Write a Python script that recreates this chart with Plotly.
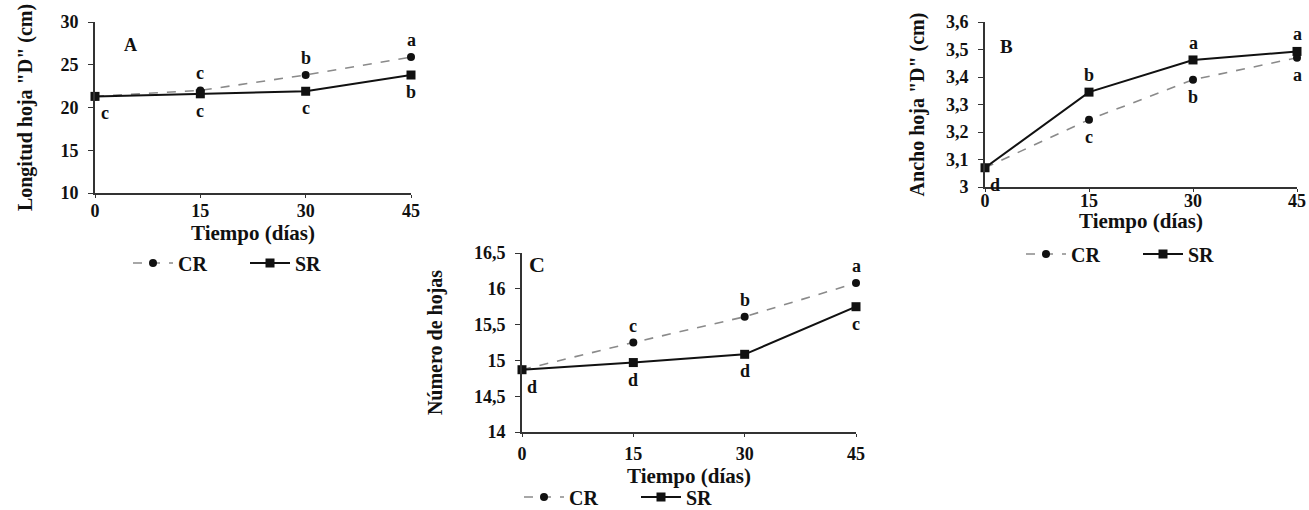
import plotly.graph_objects as go

# ---------------- data ----------------
dias = [0, 15, 30, 45]

# Panel A: Longitud hoja "D" (cm)
a_cr = [21.3, 22.0, 23.8, 25.9]
a_sr = [21.3, 21.6, 21.9, 23.8]
a_cr_let = ["", "c", "b", "a"]
a_sr_let = ["c", "c", "c", "b"]

# Panel B: Ancho hoja "D" (cm)
b_cr = [3.07, 3.245, 3.39, 3.47]
b_sr = [3.07, 3.345, 3.462, 3.493]
b_cr_let = ["d", "c", "b", "a"]
b_sr_let = ["", "b", "a", "a"]

# Panel C: Número de hojas
c_cr = [14.87, 15.25, 15.61, 16.08]
c_sr = [14.87, 14.97, 15.085, 15.75]
c_cr_let = ["", "c", "b", "a"]
c_sr_let = ["d", "d", "d", "c"]

x_title = "Tiempo (días)"

FONT = "Liberation Serif"
INK = "#111111"
W, H = 1309, 510

fig = go.Figure()

panels = [
    dict(cr=a_cr, sr=a_sr, crl=a_cr_let, srl=a_sr_let, ax="x", ay="y", leg="legend",
         crpos="above", srpos="below", title_y=233, axis_y=193),
    dict(cr=b_cr, sr=b_sr, crl=b_cr_let, srl=b_sr_let, ax="x2", ay="y2", leg="legend2",
         crpos="below", srpos="above", title_y=221, axis_y=187),
    dict(cr=c_cr, sr=c_sr, crl=c_cr_let, srl=c_sr_let, ax="x3", ay="y3", leg="legend3",
         crpos="above", srpos="below", title_y=476, axis_y=432),
]

annotations = []
for p in panels:
    fig.add_trace(go.Scatter(
        x=dias, y=p["cr"], name="CR", mode="lines+markers",
        line=dict(color="#8a8a8a", width=1.6, dash="dash"),
        marker=dict(symbol="circle", size=8, color=INK),
        xaxis=p["ax"], yaxis=p["ay"], legend=p["leg"], cliponaxis=False))
    fig.add_trace(go.Scatter(
        x=dias, y=p["sr"], name="SR", mode="lines+markers",
        line=dict(color=INK, width=2),
        marker=dict(symbol="square", size=9, color=INK),
        xaxis=p["ax"], yaxis=p["ay"], legend=p["leg"], cliponaxis=False))
    for vals, lets, pos in ((p["cr"], p["crl"], p["crpos"]), (p["sr"], p["srl"], p["srpos"])):
        for xv, yv, t in zip(dias, vals, lets):
            if not t:
                continue
            annotations.append(dict(
                x=xv, y=yv, xref=p["ax"], yref=p["ay"], text=t, showarrow=False,
                xshift=10 if xv == 0 else 0,
                yshift=17 if pos == "above" else -17,
                font=dict(family=FONT, size=18, color=INK, weight="bold")))
    # x-axis title, placed below the tick labels
    annotations.append(dict(
        x=0.5, xref=p["ax"] + " domain", y=0, yref=p["ay"] + " domain",
        yshift=-(p["title_y"] - p["axis_y"]), yanchor="middle", showarrow=False,
        text=x_title, font=dict(family=FONT, size=21, color=INK, weight="bold")))

tickfont = dict(family=FONT, size=18, color=INK, weight="bold")

def xaxis(domain, anchor, lab_off):
    return dict(domain=domain, anchor=anchor, range=[0, 45], tickvals=dias,
                showgrid=False, zeroline=False, showline=True, linecolor="#333333",
                linewidth=2, ticks="outside", ticklen=3, tickcolor="#333333",
                tickfont=tickfont, ticklabelstandoff=lab_off, automargin=False,
                ticklabeloverflow="allow")

def yaxis(domain, anchor, rng, dtick, title, standoff):
    return dict(domain=domain, anchor=anchor, range=rng, dtick=dtick,
                showgrid=False, zeroline=False, showline=True, linecolor="#333333",
                linewidth=2, ticks="outside", ticklen=5, tickcolor="#333333",
                tickfont=tickfont, ticklabelstandoff=6, automargin=False,
                ticklabeloverflow="allow",
                title=dict(text=title,
                           font=dict(family=FONT, size=20, color=INK, weight="bold"),
                           standoff=standoff))

def px(x):
    return x / W

def py(y):
    return 1 - y / H

fig.update_layout(
    width=W, height=H,
    margin=dict(l=0, r=0, t=0, b=0, autoexpand=False),
    paper_bgcolor="white", plot_bgcolor="white",
    separators=",.",
    showlegend=True,
    xaxis=xaxis([px(95), px(411)], "y", -3),
    yaxis=yaxis([py(193), py(22)], "x", [10, 30], 5, 'Longitud hoja "D" (cm)', 22),
    xaxis2=xaxis([px(985), px(1297)], "y2", -7),
    yaxis2=yaxis([py(187), py(22)], "x2", [3, 3.6], 0.1, 'Ancho hoja "D" (cm)', 16),
    xaxis3=xaxis([px(522), px(856)], "y3", 1),
    yaxis3=yaxis([py(432), py(253)], "x3", [14, 16.5], 0.5, "Número de hojas", 26),
    annotations=annotations + [
        dict(text="A", x=px(122), y=py(33), xref="paper", yref="paper", showarrow=False,
             font=dict(family=FONT, size=18, color=INK, weight="bold")),
        dict(text="B", x=px(1015), y=py(34), xref="paper", yref="paper", showarrow=False,
             font=dict(family=FONT, size=19, color=INK, weight="bold")),
        dict(text="C", x=px(537), y=py(264), xref="paper", yref="paper", showarrow=False,
             font=dict(family=FONT, size=22, color=INK, weight="bold")),
    ],
)

legfont = dict(family=FONT, size=20, color=INK, weight="bold")
for name, cx, cy in (("legend", 245, 263), ("legend2", 1138, 254), ("legend3", 636, 497)):
    fig.update_layout({name: dict(orientation="h", x=px(cx), y=py(cy), xanchor="center",
                                  yanchor="middle", font=legfont, bgcolor="rgba(0,0,0,0)",
                                  itemwidth=40, tracegroupgap=0,
                                  entrywidth=62, entrywidthmode="pixels")})

fig.write_html("out.html")
